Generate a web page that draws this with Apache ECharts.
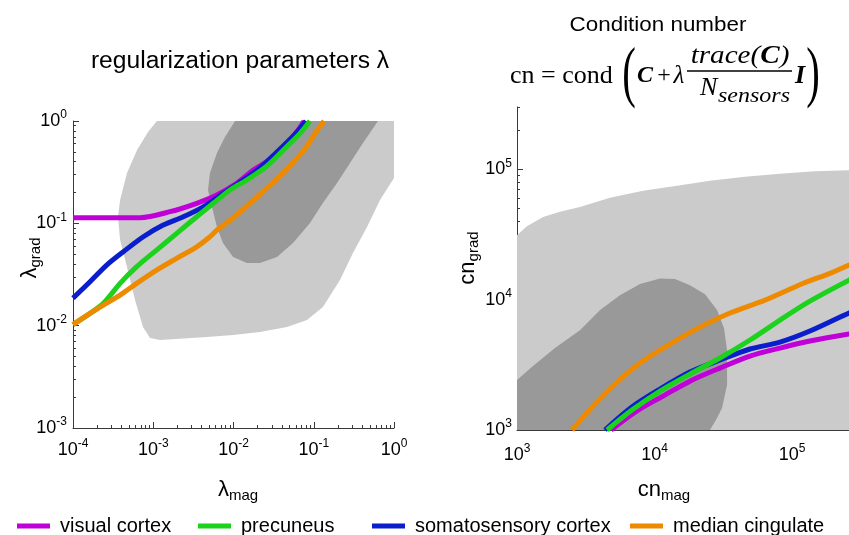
<!DOCTYPE html>
<html><head><meta charset="utf-8">
<script src="https://cdn.jsdelivr.net/npm/echarts@6/dist/echarts.min.js"></script>
<style>html,body{margin:0;padding:0;background:#fff}#c{width:849px;height:535px}</style>
</head><body><div id="c"></div>
<script>
// ---------------- data ----------------
const seriesNames = ['visual cortex', 'precuneus', 'somatosensory cortex', 'median cingulate'];
const seriesColors = ['#C000D8', '#1CD21C', '#0A1ECC', '#EE8A00'];

// tick values (major)
const lambdaMagTicks = [1e-4, 1e-3, 1e-2, 1e-1, 1];
const lambdaGradTicks = [1e-3, 1e-2, 1e-1, 1];
const cnMagTicks = [1e3, 1e4, 1e5, 1e6];
const cnGradTicks = [1e3, 1e4, 1e5];

// left panel: regions [lambda_mag, lambda_grad]
const lambdaRegion06 = [[1.11e-3,1],[1,1],[1,0.277],[0.67,0.169],[0.461,0.092],[0.308,0.0513],[0.212,0.0279],[0.130,0.0152],[0.0824,0.01135],[0.0465,0.00969],[0.0214,0.00866],[0.00987,0.00809],[0.00468,0.00774],[0.00121,0.00723],[0.000912,0.00757],[0.000745,0.00969],[0.000593,0.0178],[0.000471,0.0374],[0.000386,0.0687],[0.000364,0.115],[0.000386,0.169],[0.000471,0.310],[0.000628,0.521],[0.000861,0.780]];
const lambdaRegion08 = [[0.01045,1],[0.632,1],[0.411,0.610],[0.283,0.388],[0.195,0.248],[0.130,0.158],[0.0897,0.1007],[0.0551,0.0642],[0.0348,0.0469],[0.0214,0.0409],[0.0147,0.0409],[0.00987,0.0469],[0.00740,0.0642],[0.00622,0.092],[0.00540,0.144],[0.00481,0.212],[0.00509,0.310],[0.00622,0.487],[0.00783,0.698]];

// left panel: curves
const lambdaVisual = [[1e-4,0.1135],[2.2e-4,0.1135],[6.84e-4,0.1135],[1.62e-3,0.130],[3.48e-3,0.157],[6.18e-3,0.189],[0.01096,0.246],[0.01767,0.332],[0.0261,0.402],[0.0414,0.561],[0.0618,0.786],[0.0757,1]];
const lambdaPrecuneus = [[1e-4,0.01025],[1.63e-4,0.01319],[2.39e-4,0.01652],[3.86e-4,0.0259],[6.22e-4,0.0377],[1.10e-3,0.0548],[1.96e-3,0.0798],[3.48e-3,0.116],[5.60e-3,0.157],[9.04e-3,0.212],[0.01459,0.265],[0.0224,0.332],[0.0285,0.386],[0.0461,0.561],[0.0675,0.758],[0.0897,1]];
const lambdaSomato = [[1e-4,0.0186],[1.63e-4,0.0269],[2.63e-4,0.0391],[4.24e-4,0.0528],[7.52e-4,0.0740],[1.33e-3,0.0962],[2.37e-3,0.116],[4.21e-3,0.145],[7.46e-3,0.196],[0.01324,0.265],[0.0214,0.347],[0.0348,0.498],[0.0551,0.705],[0.0800,1]];
const lambdaCingulate = [[1e-4,0.01025],[1.63e-4,0.01319],[2.39e-4,0.0159],[3.86e-4,0.0199],[6.22e-4,0.0259],[1.10e-3,0.0349],[1.96e-3,0.0455],[3.48e-3,0.0590],[5.09e-3,0.0740],[6.22e-3,0.0860],[9.87e-3,0.1127],[0.01517,0.151],[0.0247,0.212],[0.0439,0.325],[0.0757,0.521],[0.1067,0.780],[0.1343,1]];

// right panel: regions [cn_mag, cn_grad]
const cnRegion06 = [[1000,31200],[1180,36600],[1547,43100],[2055,47100],[2870,51400],[4740,60500],[8250,68400],[14600,74800],[25300,81600],[45500,87700],[81800,92400],[147000,96500],[260000,98300],[1e6,1e5],[1e6,1000],[1000,1000]];
const cnRegion08 = [[1000,1000],[1000,2415],[1307,3090],[1888,4250],[2870,5830],[4020,8320],[5610,10800],[7850,13200],[10970,14500],[14100,14400],[18100,12900],[23300,11000],[28500,8320],[32000,6050],[33700,4100],[33700,2210],[31000,1476],[28000,1194],[25300,1000]];

// right panel: curves
const cnVisual = [[4830,1000],[7460,1400],[11900,1853],[18100,2370],[29900,2985],[49500,3690],[81800,4250],[135000,4810],[260000,5450],[369000,5740]];
const cnPrecuneus = [[4520,1000],[6850,1422],[10970,1991],[18100,2685],[29900,3566],[49500,4900],[81800,6970],[135000,9730],[260000,14100],[369000,16800]];
const cnSomato = [[4365,1000],[6850,1500],[10970,2061],[18100,2780],[29900,3440],[49500,4180],[81800,4720],[135000,5740],[260000,7890],[369000,9080]];
const cnCingulate = [[2512,1000],[3690,1581],[5340,2333],[8240,3383],[12970,4560],[21400,6150],[35400,7890],[63600,9900],[120000,13300],[189000,15900],[260000,18400],[369000,21200]];

// ---------------- chart ----------------
const SANS = '"Liberation Sans", Arial, sans-serif';
const SERIF = '"Liberation Serif", "Times New Roman", serif';
const AXIS_COLOR = '#3a3a3a';
const LIGHT = '#CBCBCB', DARK = '#999999';

function minorTicks(majors, max) {
  const out = [];
  majors.forEach(v => { for (let m = 2; m <= 9; m++) { const t = v * m; if (t <= max * (1 + 1e-9)) out.push(t); } });
  return out;
}
function expLabel(v) { return '{b|10}{s|' + Math.round(Math.log10(v)) + '}'; }
const tickRich = {
  b: { fontSize: 18, lineHeight: 24, fontFamily: SANS, color: '#000' },
  s: { fontSize: 12, lineHeight: 12, verticalAlign: 'top', fontFamily: SANS, color: '#000' }
};
function majorAxis(gridIndex, position, min, max, ticks, margin) {
  return {
    type: 'log', logBase: 10, gridIndex, position, min, max,
    axisLine: { show: true, onZero: false, lineStyle: { color: AXIS_COLOR, width: 1 } },
    axisTick: { show: true, inside: true, length: 6, customValues: ticks, lineStyle: { color: AXIS_COLOR } },
    axisLabel: { show: true, customValues: ticks, formatter: expLabel, margin, rich: tickRich },
    splitLine: { show: false }
  };
}
function minorAxis(gridIndex, position, min, max, ticks) {
  return {
    type: 'log', logBase: 10, gridIndex, position, offset: 0, min, max,
    axisLine: { show: false, onZero: false },
    axisTick: { show: true, inside: true, length: 3, customValues: minorTicks(ticks, max), lineStyle: { color: AXIS_COLOR } },
    axisLabel: { show: false },
    splitLine: { show: false }
  };
}
function regionSeries(points, color, axisIndex) {
  return {
    type: 'custom', xAxisIndex: axisIndex, yAxisIndex: axisIndex, silent: true, z: 1,
    data: [points[0]],
    renderItem: function (params, api) {
      const pts = points.map(p => api.coord(p));
      return { type: 'polygon', shape: { points: pts }, style: { fill: color } };
    }
  };
}
function lineSeries(idx, data, axisIndex) {
  return {
    type: 'line', name: seriesNames[idx], xAxisIndex: axisIndex, yAxisIndex: axisIndex,
    data, showSymbol: false, symbol: 'none', smooth: 0.3, silent: true, z: 3,
    lineStyle: { width: 5, color: seriesColors[idx] }, itemStyle: { color: seriesColors[idx] }
  };
}
function label(x, y, text) {
  return { type: 'text', x, y, style: { text, font: '22px ' + SANS, lineHeight: 26, fill: '#000', align: 'left', verticalAlign: 'middle',
    rich: { s: { fontSize: 14, lineHeight: 14, verticalAlign: 'top', fontFamily: SANS } } } };
}
function axisName(x, y, main, sub, rotated) {
  return { type: 'text', x, y, rotation: rotated ? Math.PI / 2 : 0,
    style: { text: '{m|' + main + '}{s|' + sub + '}', fill: '#000', align: 'center', verticalAlign: 'middle',
      rich: { m: { fontSize: 22, lineHeight: 26, fontFamily: SANS }, s: { fontSize: 15, lineHeight: 15, verticalAlign: 'bottom', fontFamily: SANS } } } };
}
const legendLefts = [17, 198, 372, 630];
function legendItem(i) {
  return {
    data: [seriesNames[i]], left: legendLefts[i], top: 516, padding: 0, icon: 'rect', itemWidth: 33, itemHeight: 5,
    selectedMode: false, textStyle: { fontSize: 20, fontFamily: SANS, color: '#000', padding: [0, 0, 0, 5] }
  };
}

const chart = echarts.init(document.getElementById('c'), null, { renderer: 'canvas', width: 849, height: 535 });
chart.setOption({
  animation: false,
  backgroundColor: '#fff',
  grid: [
    { left: 73, top: 121, width: 321, height: 307, outerBoundsMode: 'none', containLabel: false },
    { left: 517, top: 107, width: 412.5, height: 323, outerBoundsMode: 'none', containLabel: false }
  ],
  xAxis: [
    majorAxis(0, 'bottom', 1e-4, 1, lambdaMagTicks, 10),
    minorAxis(0, 'bottom', 1e-4, 1, lambdaMagTicks),
    majorAxis(1, 'bottom', 1e3, 1e6, cnMagTicks, 13),
    minorAxis(1, 'bottom', 1e3, 1e6, cnMagTicks)
  ],
  yAxis: [
    majorAxis(0, 'left', 1e-3, 1, lambdaGradTicks, 6),
    minorAxis(0, 'left', 1e-3, 1, lambdaGradTicks),
    majorAxis(1, 'left', 1e3, 3e5, cnGradTicks, 5),
    minorAxis(1, 'left', 1e3, 3e5, cnGradTicks)
  ],
  legend: [legendItem(0), legendItem(1), legendItem(2), legendItem(3)],
  series: [
    regionSeries(lambdaRegion06, LIGHT, 0),
    regionSeries(lambdaRegion08, DARK, 0),
    lineSeries(0, lambdaVisual, 0),
    lineSeries(2, lambdaSomato, 0),
    lineSeries(1, lambdaPrecuneus, 0),
    lineSeries(3, lambdaCingulate, 0),
    regionSeries(cnRegion06, LIGHT, 2),
    regionSeries(cnRegion08, DARK, 2),
    lineSeries(0, cnVisual, 2),
    lineSeries(2, cnSomato, 2),
    lineSeries(1, cnPrecuneus, 2),
    lineSeries(3, cnCingulate, 2)
  ],
  graphic: [
    { type: 'text', x: 240, y: 62, scaleX: 1.07, style: { text: 'regularization parameters λ', font: '23px ' + SANS, fill: '#000', align: 'center', verticalAlign: 'middle' } },
    { type: 'text', x: 658, y: 25, scaleX: 1.12, style: { text: 'Condition number', font: '20px ' + SANS, fill: '#000', align: 'center', verticalAlign: 'middle' } },
    { type: 'text', x: 510, y: 76, style: { text: 'cn = cond', font: '26px ' + SERIF, fill: '#000', align: 'left', verticalAlign: 'middle' } },
    { type: 'text', x: 629, y: 76, scaleX: 0.6, style: { text: '(', font: '68px ' + SERIF, fill: '#000', align: 'center', verticalAlign: 'middle' } },
    { type: 'text', x: 637, y: 76, style: { text: 'C', font: 'italic bold 24px ' + SERIF, fill: '#000', align: 'left', verticalAlign: 'middle' } },
    { type: 'text', x: 664, y: 76, style: { text: '+', font: '24px ' + SERIF, fill: '#000', align: 'center', verticalAlign: 'middle' } },
    { type: 'text', x: 679, y: 76, style: { text: 'λ', font: 'italic 25px ' + SERIF, fill: '#000', align: 'center', verticalAlign: 'middle' } },
    { type: 'line', shape: { x1: 687, y1: 71, x2: 792, y2: 71 }, style: { stroke: '#000', lineWidth: 1.3 } },
    { type: 'text', x: 740, y: 56, scaleX: 1.12, style: { text: '{i|trace(}{b|C}{i|)}', fill: '#000', align: 'center', verticalAlign: 'middle',
      rich: { i: { font: 'italic 26px ' + SERIF }, b: { font: 'italic bold 26px ' + SERIF } } } },
    { type: 'text', x: 700, y: 88, style: { text: 'N', font: 'italic 26px ' + SERIF, fill: '#000', align: 'left', verticalAlign: 'middle' } },
    { type: 'text', x: 718, y: 97, scaleX: 1.2, style: { text: 'sensors', font: 'italic 20px ' + SERIF, fill: '#000', align: 'left', verticalAlign: 'middle' } },
    { type: 'text', x: 795, y: 76, style: { text: 'I', font: 'italic bold 26px ' + SERIF, fill: '#000', align: 'left', verticalAlign: 'middle' } },
    { type: 'text', x: 813, y: 76, scaleX: 0.6, style: { text: ')', font: '68px ' + SERIF, fill: '#000', align: 'center', verticalAlign: 'middle' } },
    label(248, 205, 'r{s|2}>0.8'),
    label(227, 297, 'r{s|2}>0.6'),
    label(688, 238, 'r{s|2}>0.6'),
    label(550, 387, 'r{s|2}>0.8'),
    axisName(30, 258, 'λ', 'grad', true),
    axisName(468, 258, 'cn', 'grad', true),
    axisName(238, 490, 'λ', 'mag', false),
    axisName(664, 490, 'cn', 'mag', false)
  ]
});
</script>
</body></html>
